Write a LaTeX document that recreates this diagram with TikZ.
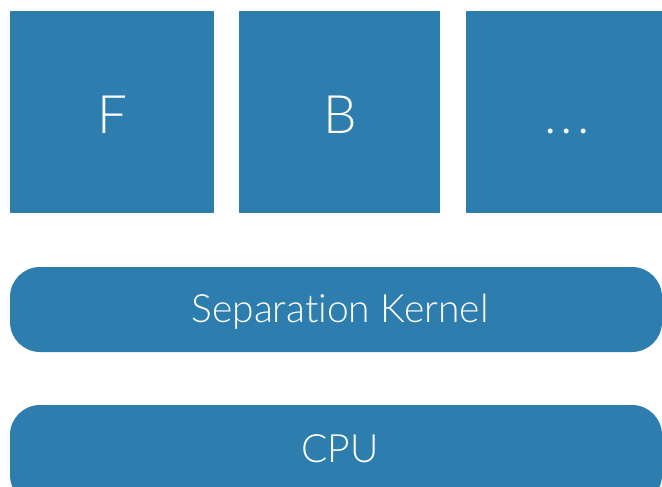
\documentclass[tikz,border=0pt]{standalone}
\usepackage{fontspec}
\setmainfont{Lato}[UprightFont=* Light, Ligatures={NoCommon,NoRare}]
\usepackage{tikz}
\definecolor{slab}{RGB}{46,125,175}

\begin{document}
\begin{tikzpicture}[x=1pt, y=-1pt,
    part/.style={fill=slab, draw=none, inner sep=0pt},
    layer/.style={fill=slab, draw=none, inner sep=0pt, rounded corners=30pt},
    big/.style={text=white, inner sep=0pt, anchor=base, font=\fontsize{53}{60}\selectfont},
    small/.style={text=white, inner sep=0pt, anchor=base, font=\fontsize{39}{44}\selectfont}]
    \useasboundingbox (0,0) rectangle (662,487);
    \clip (0,0) rectangle (662,487);

    % partitions
    \node[part, minimum width=204pt, minimum height=202pt] (f) at (112, 112) {};
    \node[part, minimum width=201pt, minimum height=202pt] (b) at (339.5, 112) {};
    \node[part, minimum width=210pt, minimum height=202pt] (more) at (571, 112) {};
    \node[big] (flabel) at (112, 133) {F};
    \node[big] (blabel) at (340, 133) {B};
    \node[big] (dots) at (567, 133) {.\hspace{4pt}.\hspace{4pt}.};

    % layers
    \node[layer, minimum width=652pt, minimum height=85pt] (kernel) at (336, 309.5) {};
    \node[layer, minimum width=652pt, minimum height=100pt] (cpu) at (336, 455) {};
    \node[small] (klabel) at (340, 322) {Separation Kernel};
    \node[small] (cpulabel) at (340, 462) {CPU};
\end{tikzpicture}
\end{document}
